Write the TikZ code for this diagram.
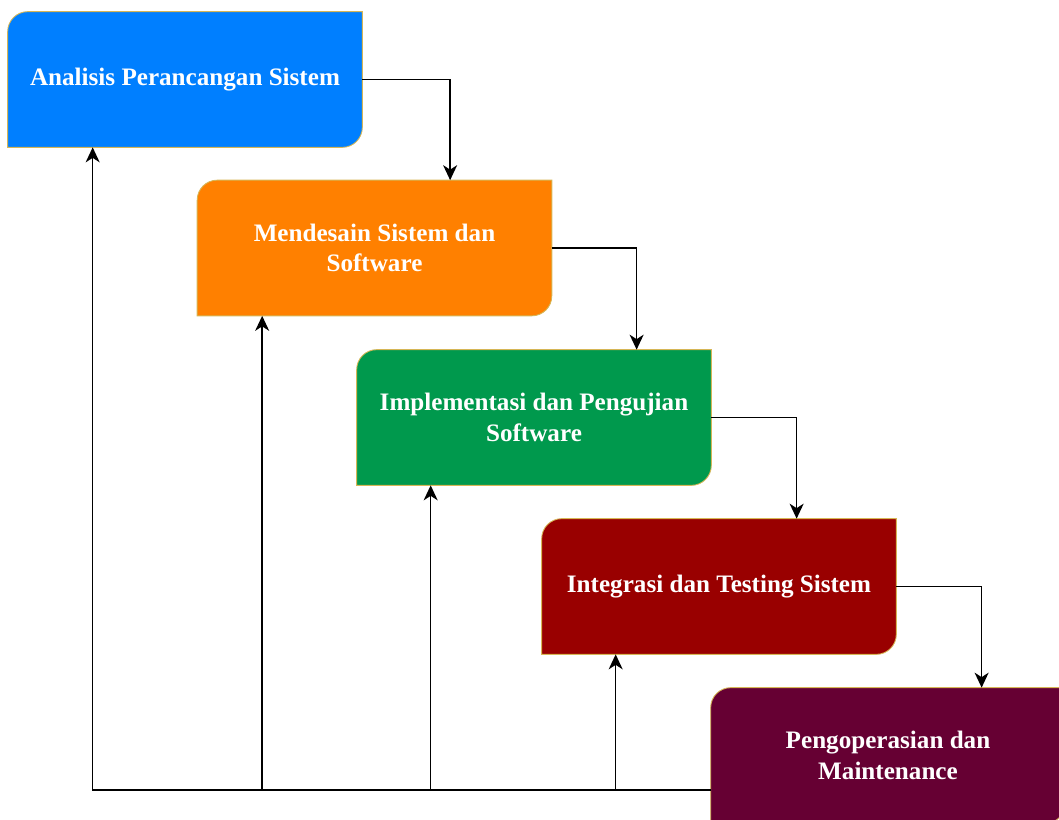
\documentclass[tikz,border=0pt]{standalone}
\usepackage{fontspec}
\setmainfont{Liberation Serif}
\usetikzlibrary{arrows.meta,positioning,calc,backgrounds}
\definecolor{stageblue}{HTML}{007FFF}
\definecolor{stageorange}{HTML}{FF8000}
\definecolor{stagegreen}{HTML}{00994D}
\definecolor{stagered}{HTML}{990000}
\definecolor{stagewine}{HTML}{660033}
\definecolor{edgeyellow}{HTML}{D6B656}

\begin{document}
\begin{tikzpicture}[
  x=0.02cm, y=-0.02cm,
  stage/.style={minimum width=7.08cm, minimum height=2.7cm, align=center, text=white,
    font=\fontsize{14.3}{17.5}\selectfont\bfseries},
  flow/.style={->, line width=0.9pt},
  >={Stealth[length=3mm,width=2.8mm,inset=0.9mm]}
]
\useasboundingbox (0,0) rectangle (1059,819);

\node[stage] (analisis) at (185,79.5) {Analisis Perancangan Sistem};
\node[stage] (desain) at (374.5,248) {Mendesain Sistem dan\\Software};
\node[stage] (impl) at (534,417.5) {Implementasi dan Pengujian\\Software};
\node[stage] (integrasi) at (719,586.5) {Integrasi dan Testing Sistem};
\node[stage] (operasi) at (888,755.5) {Pengoperasian dan\\Maintenance};

% only the top left and bottom right corners of each stage are rounded
\begin{scope}[on background layer]
\foreach \n/\c in {analisis/stageblue, desain/stageorange, impl/stagegreen,
                   integrasi/stagered, operasi/stagewine}
  \filldraw[fill=\c, draw=edgeyellow, line width=0.5pt]
    (\n.south west) -- ([yshift=-0.4cm]\n.north west)
    arc[start angle=180, end angle=90, radius=0.4cm]
    -- (\n.north east) -- ([yshift=0.4cm]\n.south east)
    arc[start angle=0, end angle=-90, radius=0.4cm] -- cycle;
\end{scope}

% waterfall, step by step
\draw[flow] (analisis.east) -| ([xshift=5.06cm]desain.north west);
\draw[flow] (desain.east) -| ([xshift=5.6cm]impl.north west);
\draw[flow] (impl.east) -| ([xshift=5.1cm]integrasi.north west);
\draw[flow] (integrasi.east) -| ([xshift=5.42cm]operasi.north west);

% feedback from maintenance back to every earlier stage
\coordinate (balik) at (711,790);
\draw[flow] (balik) -| ([xshift=1.7cm]analisis.south west);
\draw[flow] (balik) -| ([xshift=1.3cm]desain.south west);
\draw[flow] (balik) -| ([xshift=1.48cm]impl.south west);
\draw[flow] (balik) -| ([xshift=1.48cm]integrasi.south west);
\end{tikzpicture}
\end{document}
